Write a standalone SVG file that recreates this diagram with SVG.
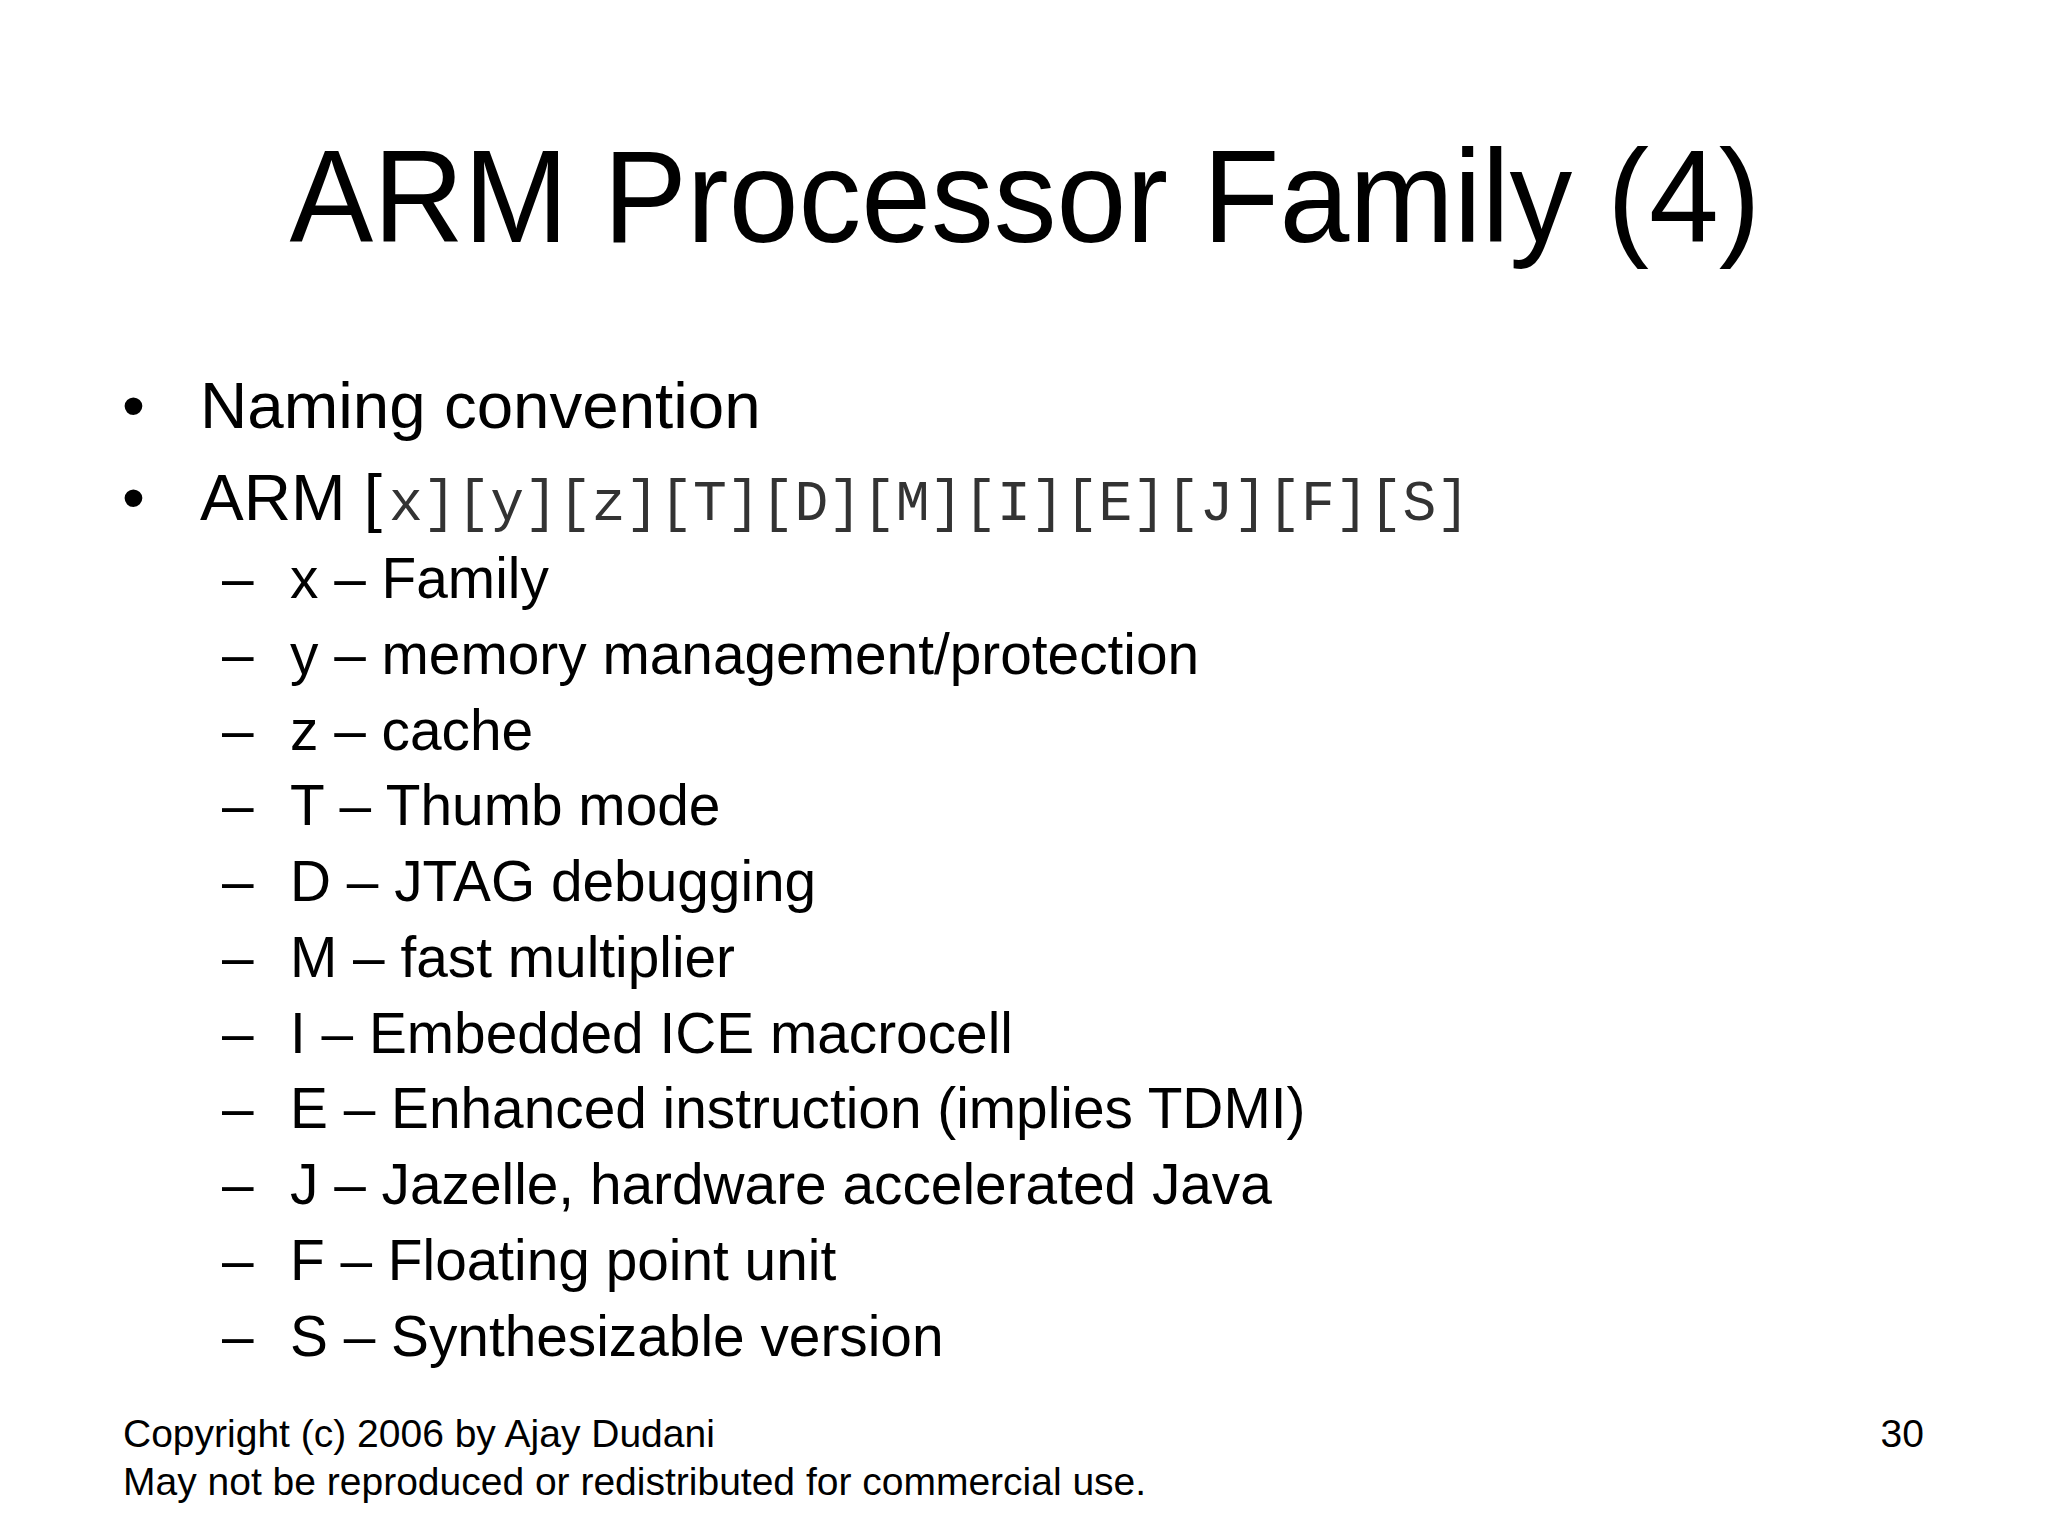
<svg xmlns="http://www.w3.org/2000/svg" width="2048" height="1536" viewBox="0 0 2048 1536">
<style>
text{font-family:"Liberation Sans",Arial,sans-serif;fill:#000}
.b{font-size:65.5px}
.s{font-size:56.8px}
.f{font-size:39px}
.m{font-family:"Liberation Mono","Courier New",monospace;fill:#333;font-weight:300}
</style>
<rect width="2048" height="1536" fill="#fff"/>
<text x="1025" y="242" text-anchor="middle" font-size="131" textLength="1471" lengthAdjust="spacingAndGlyphs">ARM Processor Family (4)</text>
<g class="b">
<text x="122" y="428">•</text><text x="200" y="428">Naming convention</text>
<text x="122" y="520">•</text><text x="200" y="520">ARM [</text>
<text class="m" x="389" y="520" font-size="58" textLength="1081" lengthAdjust="spacingAndGlyphs">x][y][z][T][D][M][I][E][J][F][S]</text>
</g>
<g class="s">
<text x="222" y="598">–</text><text x="290" y="598">x – Family</text>
<text x="222" y="674">–</text><text x="290" y="674">y – memory management/protection</text>
<text x="222" y="750">–</text><text x="290" y="750">z – cache</text>
<text x="222" y="825">–</text><text x="290" y="825">T – Thumb mode</text>
<text x="222" y="901">–</text><text x="290" y="901">D – JTAG debugging</text>
<text x="222" y="977">–</text><text x="290" y="977">M – fast multiplier</text>
<text x="222" y="1053">–</text><text x="290" y="1053">I – Embedded ICE macrocell</text>
<text x="222" y="1128">–</text><text x="290" y="1128">E – Enhanced instruction (implies TDMI)</text>
<text x="222" y="1204">–</text><text x="290" y="1204">J – Jazelle, hardware accelerated Java</text>
<text x="222" y="1280">–</text><text x="290" y="1280">F – Floating point unit</text>
<text x="222" y="1356">–</text><text x="290" y="1356">S – Synthesizable version</text>
</g>
<g class="f">
<text x="123" y="1447">Copyright (c) 2006 by Ajay Dudani</text>
<text x="123" y="1495">May not be reproduced or redistributed for commercial use.</text>
<text x="1924" y="1447" text-anchor="end">30</text>
</g>
</svg>
